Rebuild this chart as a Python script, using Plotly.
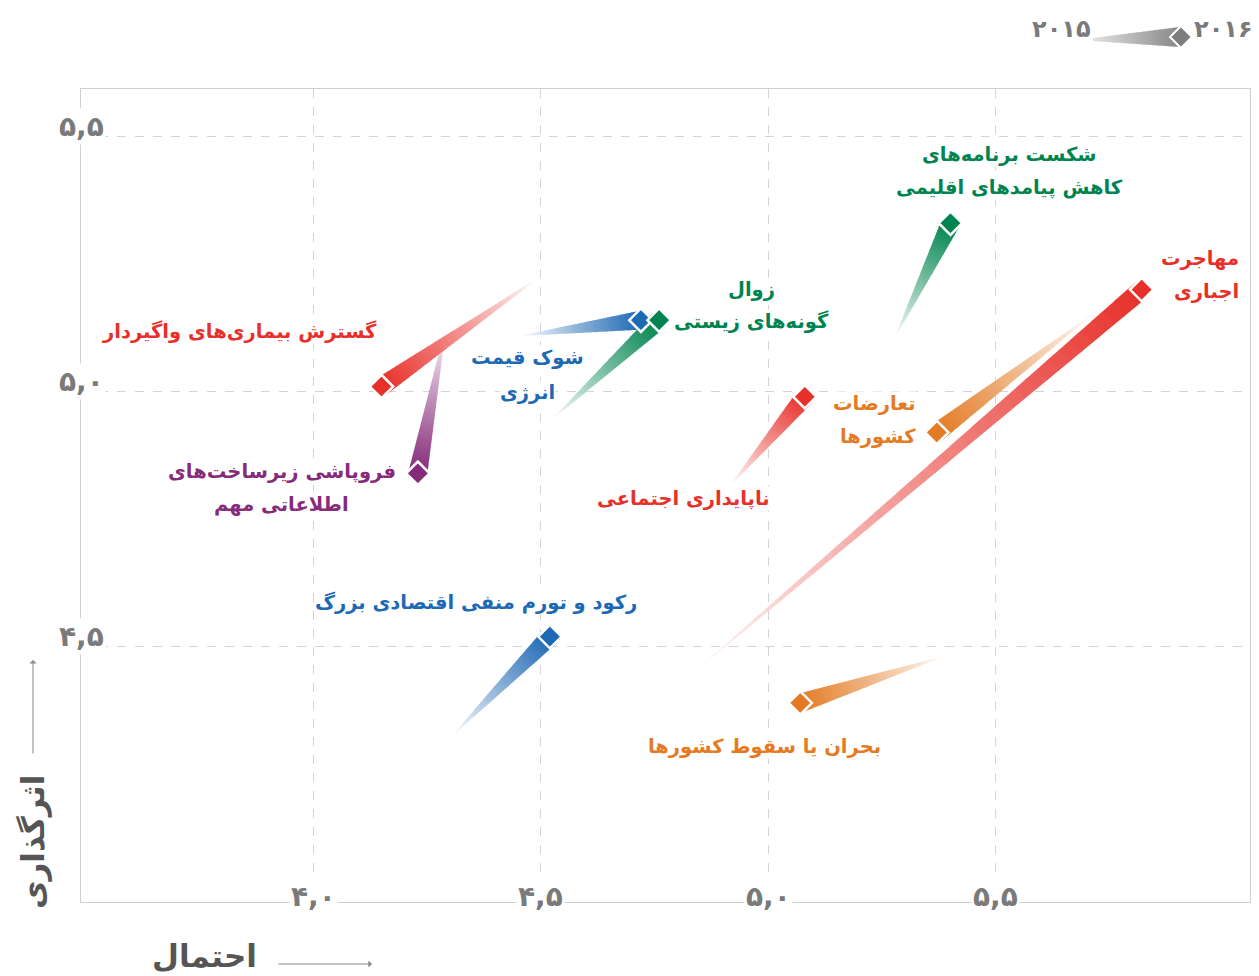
import plotly.graph_objects as go

# ---------------- data ----------------
NAMES = [
    "مهاجرت\nاجباری",
    "تعارضات\nکشورها",
    "شکست برنامه‌های\nکاهش پیامدهای اقلیمی",
    "ناپایداری اجتماعی",
    "بحران یا سقوط کشورها",
    "رکود و تورم منفی اقتصادی بزرگ",
    "فروپاشی زیرساخت‌های\nاطلاعاتی مهم",
    "گسترش بیماری‌های واگیردار",
    "شوک قیمت\nانرژی",
    "زوال\nگونه‌های زیستی",
]
X_2016 = [5.82, 5.37, 5.40, 5.08, 5.07, 4.52, 4.23, 4.15, 4.72, 4.76]
Y_2016 = [5.20, 4.92, 5.33, 4.99, 4.39, 4.52, 4.84, 5.01, 5.14, 5.14]
X_2015 = [4.85, 5.71, 5.28, 4.92, 5.38, 4.31, 4.29, 4.49, 4.46, 4.53]
Y_2015 = [4.46, 5.15, 5.11, 4.82, 4.48, 4.33, 5.12, 5.22, 5.11, 4.95]

X_TICK_VALUES = [4.0, 4.5, 5.0, 5.5]
X_TICK_LABELS = ["۴,۰", "۴,۵", "۵,۰", "۵,۵"]
Y_TICK_VALUES = [4.5, 5.0, 5.5]
Y_TICK_LABELS = ["۴,۵", "۵,۰", "۵,۵"]
YEAR_LABELS = ["۲۰۱۵", "۲۰۱۶"]
X_TITLE = "احتمال"
Y_TITLE = "اثرگذاری"

# ---------------- styles ----------------
RED, ORANGE, GREEN, BLUE, PURPLE = "#E8302A", "#E47B24", "#00844F", "#1E69B4", "#862A7A"
COLORS = [RED, ORANGE, GREEN, RED, ORANGE, BLUE, PURPLE, RED, BLUE, GREEN]
# label placement: (dx, dy of first line in px, anchor, line spacing)
LABEL_POS = [
    (98, -31, "right", 33),
    (-20, -29, "right", 33),
    (59, -69, "center", 33),
    (-121, 102, "center", 33),
    (-36, 44, "center", 33),
    (-74, -34, "center", 33),
    (-136, -2, "center", 33),
    (-142, -55, "center", 33),
    (-113, 37, "center", 35),
    (92, -31, "center", 32),
]
FONT = "DejaVu Sans"
HEAD_W = 19
N_SLICES = 40

X0, X1 = 3.49, 6.058
Y0, Y1 = 4.0, 5.593
PL, PT, PW, PH = 81, 89, 1169, 813   # plot box in screenshot pixels
OFF = 8                              # page body margin
W, H = 1259 - OFF, 976 - OFF


def to_px(x, y):
    return PL + (x - X0) / (X1 - X0) * PW, PT + (Y1 - y) / (Y1 - Y0) * PH


def from_px(X, Y):
    return X0 + (X - PL) / PW * (X1 - X0), Y1 - (Y - PT) / PH * (Y1 - Y0)


def paper(X, Y):
    return (X - PL) / PW, (PT + PH - Y) / PH


def hex_rgb(c):
    c = c.lstrip("#")
    return [int(c[i:i + 2], 16) for i in (0, 2, 4)]


def mix(c, a):
    r, g, b = hex_rgb(c)
    return "rgb(%d,%d,%d)" % (255 + (r - 255) * a, 255 + (g - 255) * a, 255 + (b - 255) * a)


def wedge(hx, hy, tx, ty, wh, wt, n):
    dx, dy = hx - tx, hy - ty
    L = (dx * dx + dy * dy) ** 0.5
    ux, uy = dx / L, dy / L
    nx, ny = -uy, ux
    out = []
    ov = 0.6 / L
    for i in range(n):
        ta = i / n
        tb = min(1.0, (i + 1) / n + ov)
        pts = []
        for t, s in ((ta, 1), (tb, 1), (tb, -1), (ta, -1)):
            w = (wt + (wh - wt) * t) / 2
            pts.append((tx + dx * t + s * nx * w, ty + dy * t + s * ny * w))
        out.append((pts, (ta + tb) / 2))
    return out


fig = go.Figure()

# tails
for i in range(len(X_2016)):
    hx, hy = to_px(X_2016[i], Y_2016[i])
    tx, ty = to_px(X_2015[i], Y_2015[i])
    for pts, tm in wedge(hx, hy, tx, ty, HEAD_W, 0.8, N_SLICES):
        xs, ys = [], []
        for P in pts + [pts[0]]:
            xv, yv = from_px(*P)
            xs.append(xv)
            ys.append(yv)
        fig.add_trace(go.Scatter(x=xs, y=ys, mode="lines", fill="toself",
                                 fillcolor=mix(COLORS[i], tm ** 0.9),
                                 line=dict(width=0), hoverinfo="skip", showlegend=False))

# diamonds (2016)
fig.add_trace(go.Scatter(x=X_2016, y=Y_2016, mode="markers",
                         marker=dict(symbol="diamond", size=18, color=COLORS,
                                     line=dict(color="white", width=2.5)),
                         hoverinfo="skip", showlegend=False))

ann = []
# point labels
for i, name in enumerate(NAMES):
    dx, dy, anchor, sp = LABEL_POS[i]
    for k, line in enumerate(name.split("\n")):
        ann.append(dict(x=X_2016[i], y=Y_2016[i], xref="x", yref="y", text=line,
                        showarrow=False, xshift=dx, yshift=-(dy + k * sp),
                        xanchor=anchor, yanchor="middle", bgcolor="white",
                        borderpad=0,
                        font=dict(family=FONT, size=19.5, color=COLORS[i], weight="bold")))

TICK_FONT = dict(family=FONT, size=28, color="#7a7a7a", weight="bold")
for v, t in zip(X_TICK_VALUES, X_TICK_LABELS):
    ann.append(dict(x=v, y=0, xref="x", yref="paper", text=t, showarrow=False,
                    yshift=6, xanchor="center", yanchor="middle", bgcolor="white",
                    font=TICK_FONT))
for v, t in zip(Y_TICK_VALUES, Y_TICK_LABELS):
    ann.append(dict(x=0, y=v, xref="paper", yref="y", text=t, showarrow=False,
                    yshift=10, xanchor="center", yanchor="middle", bgcolor="white",
                    font=TICK_FONT))

# axis titles
TITLE_FONT = dict(family=FONT, size=31, color="#555555", weight="bold")
px_, py_ = paper(204, 956)
ann.append(dict(x=px_, y=py_, xref="paper", yref="paper", text=X_TITLE, showarrow=False,
                xanchor="center", yanchor="middle", font=TITLE_FONT))
px_, py_ = paper(33, 842)
ann.append(dict(x=px_, y=py_, xref="paper", yref="paper", text=Y_TITLE, showarrow=False,
                textangle=-90, xanchor="center", yanchor="middle", font=TITLE_FONT))
# axis arrows (head at x,y; tail offset in pixels)
a0 = paper(372, 964)
ann.append(dict(x=a0[0], y=a0[1], ax=-95, ay=0, xref="paper", yref="paper",
                axref="pixel", ayref="pixel", text="", showarrow=True, arrowhead=1,
                arrowsize=1.2, arrowwidth=1, arrowcolor="#888"))
a0 = paper(33, 660)
ann.append(dict(x=a0[0], y=a0[1], ax=0, ay=95, xref="paper", yref="paper",
                axref="pixel", ayref="pixel", text="", showarrow=True, arrowhead=1,
                arrowsize=1.2, arrowwidth=1, arrowcolor="#888"))

# legend (top right)
LEG_FONT = dict(family=FONT, size=24, color="#7a7a7a", weight="bold")
p = paper(1093, 29)
ann.append(dict(x=p[0], y=p[1], xref="paper", yref="paper", text=YEAR_LABELS[0],
                showarrow=False, xanchor="right", yanchor="middle", font=LEG_FONT))
p = paper(1192, 29)
ann.append(dict(x=p[0], y=p[1], xref="paper", yref="paper", text=YEAR_LABELS[1],
                showarrow=False, xanchor="left", yanchor="middle", font=LEG_FONT))

shapes = []
for pts, tm in wedge(1180, 37, 1093, 39.5, 20, 3, 30):
    pp = [paper(*P) for P in pts]
    path = "M" + " L".join("%f,%f" % q for q in pp) + " Z"
    r = int(225 - (225 - 135) * tm)
    shapes.append(dict(type="path", path=path, xref="paper", yref="paper",
                       fillcolor="rgb(%d,%d,%d)" % (r, r, r), line=dict(width=0)))
d = 11
pp = [paper(1181, 37 - d), paper(1181 + d, 37), paper(1181, 37 + d), paper(1181 - d, 37)]
shapes.append(dict(type="path", path="M" + " L".join("%f,%f" % q for q in pp) + " Z",
                   xref="paper", yref="paper", fillcolor="#7d7d7d",
                   line=dict(color="white", width=2)))

fig.update_layout(
    width=W, height=H,
    margin=dict(l=PL - OFF, r=W - (PL - OFF) - PW, t=PT - OFF, b=H - (PT - OFF) - PH),
    paper_bgcolor="white", plot_bgcolor="white",
    xaxis=dict(range=[X0, X1], tickvals=X_TICK_VALUES, showticklabels=False, ticks="",
               showgrid=True, gridcolor="#d4d4d4", griddash="dash", gridwidth=1,
               zeroline=False, showline=True, linecolor="#cfcfcf", linewidth=1, mirror=True,
               fixedrange=True),
    yaxis=dict(range=[Y0, Y1], tickvals=Y_TICK_VALUES, showticklabels=False, ticks="",
               showgrid=True, gridcolor="#d4d4d4", griddash="dash", gridwidth=1,
               zeroline=False, showline=True, linecolor="#cfcfcf", linewidth=1, mirror=True,
               fixedrange=True),
    annotations=ann, shapes=shapes, showlegend=False,
)

fig.write_html("out.html")
